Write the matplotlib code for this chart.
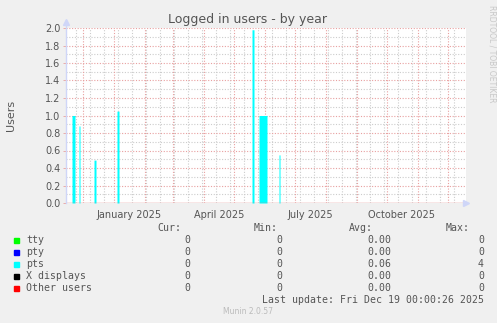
import matplotlib
matplotlib.use('Agg')
import matplotlib.pyplot as plt
import numpy as np
import pandas as pd

# Munin "users" year graph
start = pd.Timestamp('2024-11-14')
end = pd.Timestamp('2025-12-19')

# pts sessions (daily averages)
span_start = ['2024-11-20', '2024-11-27', '2024-12-12', '2025-01-04',
              '2025-05-19', '2025-05-26', '2025-06-15']
span_days = [3, 1, 2, 2, 2, 8, 1]
span_value = [1.0, 0.88, 0.49, 1.05, 1.98, 1.0, 0.55]

# legend table
names = ['tty', 'pty', 'pts', 'X displays', 'Other users']
colors = ['#00FF00', '#0000FF', '#00FFFF', '#000000', '#FF0000']
cur = ['0', '0', '0', '0', '0']
mins = ['0', '0', '0', '0', '0']
avgs = ['0.00', '0.00', '0.06', '0.00', '0.00']
maxs = ['0', '0', '4', '0', '0']

days = pd.date_range(start, end, freq='D')
pts = np.zeros(len(days))
for s, n, v in zip(span_start, span_days, span_value):
    i = (pd.Timestamp(s) - start).days
    pts[i:i + n] = v

fg = '#555555'
fig = plt.figure(figsize=(4.97, 3.23), dpi=100, facecolor='#F0F0F0')
ax = fig.add_axes([66 / 497, 1 - 203 / 323, 400 / 497, 175 / 323])
ax.set_facecolor('white')

ax.fill_between(days, pts, step='post', color='#00FFFF', linewidth=0, zorder=3)

ax.set_xlim(start, end)
ax.set_ylim(0, 2.0)

# grid
dots = (0, (1, 1.5))
minor_x = pd.date_range('2024-11-24', end, freq='14D')
major_x = pd.date_range('2024-12-01', end, freq='MS')
for d in minor_x:
    ax.axvline(d, color='#CCCCCC', lw=0.8, ls=dots, zorder=1)
for d in major_x:
    ax.axvline(d, color='#E8A0A0', lw=0.8, ls=dots, zorder=2)
for y in np.arange(0.1, 2.0, 0.2):
    ax.axhline(y, color='#CCCCCC', lw=0.8, ls=dots, zorder=1)
for y in np.arange(0.2, 2.01, 0.2):
    ax.axhline(y, color='#E8A0A0', lw=0.8, ls=dots, zorder=2)
ax.axhline(0, color='#E08080', lw=1.0, zorder=4)

for sp in ax.spines.values():
    sp.set_visible(False)
ax.plot([0, 0], [0, 1.035], transform=ax.transAxes, color='#CFD6F8', lw=1,
        clip_on=False, zorder=5)
ax.plot([0], [1.035], marker='^', ms=5, color='#CFD6F8', transform=ax.transAxes,
        clip_on=False, zorder=5)
ax.plot([1.0], [0], marker='>', ms=5, color='#CFD6F8', transform=ax.transAxes,
        clip_on=False, zorder=5)

label_pos = [pd.Timestamp(x) for x in ['2025-01-16', '2025-04-16', '2025-07-16', '2025-10-16']]
ax.set_xticks(label_pos)
ax.set_xticklabels(['January 2025', 'April 2025', 'July 2025', 'October 2025'])
ax.set_yticks(np.arange(0, 2.01, 0.2))
ax.set_yticklabels(['%.1f' % v for v in np.arange(0, 2.01, 0.2)])
ax.tick_params(axis='x', length=0, pad=5, labelsize=7, labelcolor=fg)
ax.tick_params(axis='y', length=2, width=0.6, color='#E8A0A0', pad=2,
               labelsize=7, labelcolor=fg)

ax.set_ylabel('Users', fontsize=8, color=fg, labelpad=21)
fig.text(248 / 497, 1 - 19 / 323, 'Logged in users - by year', ha='center',
         va='center', fontsize=9, color=fg)
fig.text(492 / 497, 1 - 5 / 323, 'RRDTOOL / TOBI OETIKER', rotation=270,
         ha='center', va='top', fontsize=5.5, color='#C8C8C8')

# legend table
mono = dict(family='DejaVu Sans Mono', fontsize=7.1, color=fg, va='center')
def fy(y):
    return 1 - y / 323
fig.text(181 / 497, fy(228), 'Cur:', ha='right', **mono)
fig.text(278 / 497, fy(228), 'Min:', ha='right', **mono)
fig.text(373 / 497, fy(228), 'Avg:', ha='right', **mono)
fig.text(470 / 497, fy(228), 'Max:', ha='right', **mono)
for i, nm in enumerate(names):
    y = 240 + 12 * i
    fig.patches.append(plt.Rectangle((14 / 497, fy(y + 2.5)), 5 / 497, 5 / 323,
                                     transform=fig.transFigure, color=colors[i]))
    fig.text(26 / 497, fy(y), nm, ha='left', **mono)
    fig.text(190 / 497, fy(y), cur[i], ha='right', **mono)
    fig.text(282 / 497, fy(y), mins[i], ha='right', **mono)
    fig.text(391 / 497, fy(y), avgs[i], ha='right', **mono)
    fig.text(484 / 497, fy(y), maxs[i], ha='right', **mono)
fig.text(484 / 497, fy(300), 'Last update: Fri Dec 19 00:00:26 2025', ha='right', **mono)
fig.text(248 / 497, fy(311), 'Munin 2.0.57', ha='center', va='center',
         fontsize=5.5, color='#BBBBBB')

fig.savefig('out.png', dpi=100, facecolor=fig.get_facecolor())
